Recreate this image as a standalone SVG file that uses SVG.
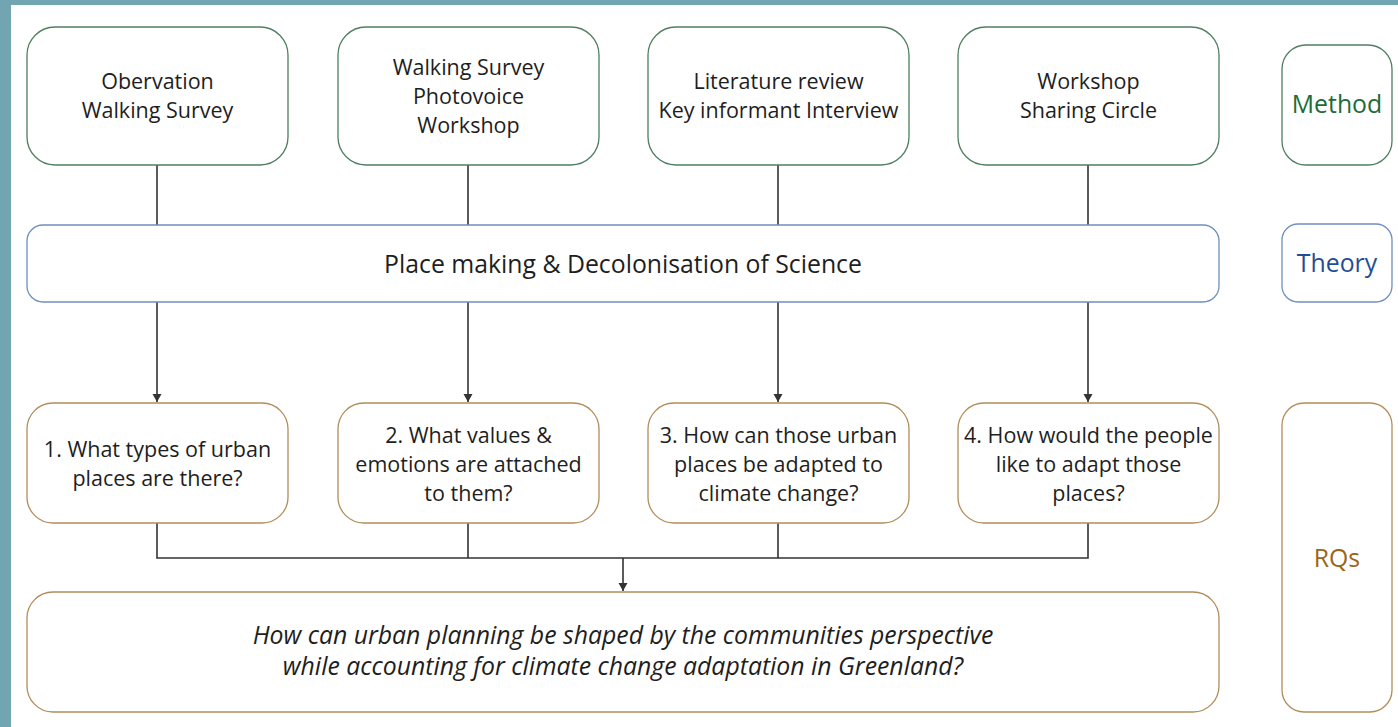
<svg xmlns="http://www.w3.org/2000/svg" width="1398" height="727" viewBox="0 0 1398 727">
<defs>
<marker id="arr" markerWidth="10" markerHeight="10" refX="9" refY="5" orient="auto" markerUnits="userSpaceOnUse">
<path d="M1,0.5 L9,5 L1,9.5 Z" fill="#333"/>
</marker>
<style>
text{font-family:"Open Sans","Noto Sans",sans-serif;font-size:21.5px;fill:#1e1e1e;text-anchor:middle;dominant-baseline:central}
.m{fill:#fff;stroke:#4f7f5f;stroke-width:1.3}
.t{fill:#fff;stroke:#6f8fbf;stroke-width:1.3}
.r{fill:#fff;stroke:#b18d5b;stroke-width:1.3}
.c{fill:none;stroke:#333;stroke-width:1.6}
.big{font-size:24.8px}
</style>
</defs>
<rect width="1398" height="727" fill="#72a5b2"/>
<rect x="11" y="5" width="1387" height="722" fill="#fff"/>
<g id="connectors">
<path class="c" d="M157,165V225M468,165V225M778,165V225M1088,165V225"/>
<path class="c" d="M157,302V402" marker-end="url(#arr)"/>
<path class="c" d="M468,302V402" marker-end="url(#arr)"/>
<path class="c" d="M778,302V402" marker-end="url(#arr)"/>
<path class="c" d="M1088,302V402" marker-end="url(#arr)"/>
<path class="c" d="M157,523V558H1088V523M468,523V558M778,523V558"/>
<path class="c" d="M623,558V591" marker-end="url(#arr)"/>
</g>
<g id="m1"><rect class="m" x="27" y="27" width="261" height="138" rx="28"/><text x="157.5" y="80">Obervation</text><text x="157.5" y="109">Walking Survey</text></g>
<g id="m2"><rect class="m" x="338" y="27" width="261" height="138" rx="28"/><text x="468.5" y="66">Walking Survey</text><text x="468.5" y="95">Photovoice</text><text x="468.5" y="124">Workshop</text></g>
<g id="m3"><rect class="m" x="648" y="27" width="261" height="138" rx="28"/><text x="778.5" y="80">Literature review</text><text x="778.5" y="109">Key informant Interview</text></g>
<g id="m4"><rect class="m" x="958" y="27" width="261" height="138" rx="28"/><text x="1088.5" y="80">Workshop</text><text x="1088.5" y="109">Sharing Circle</text></g>
<g id="method"><rect class="m" x="1282" y="45" width="110" height="120" rx="24"/><text class="big" x="1337" y="103" style="fill:#1e6b37">Method</text></g>
<g id="theory-bar"><rect class="t" x="27" y="225" width="1192" height="77" rx="16"/><text class="big" x="623" y="263">Place making &amp; Decolonisation of Science</text></g>
<g id="theory"><rect class="t" x="1282" y="224" width="110" height="78" rx="16"/><text class="big" x="1337" y="262" style="fill:#1f4e96">Theory</text></g>
<g id="q1"><rect class="r" x="27" y="403" width="261" height="120" rx="26"/><text x="157.5" y="448">1. What types of urban</text><text x="157.5" y="477">places are there?</text></g>
<g id="q2"><rect class="r" x="338" y="403" width="261" height="120" rx="26"/><text x="468.5" y="434">2. What values &amp;</text><text x="468.5" y="463">emotions are attached</text><text x="468.5" y="492">to them?</text></g>
<g id="q3"><rect class="r" x="648" y="403" width="261" height="120" rx="26"/><text x="778.5" y="434">3. How can those urban</text><text x="778.5" y="463">places be adapted to</text><text x="778.5" y="492">climate change?</text></g>
<g id="q4"><rect class="r" x="958" y="403" width="261" height="120" rx="26"/><text x="1088.5" y="434">4. How would the people</text><text x="1088.5" y="463">like to adapt those</text><text x="1088.5" y="492">places?</text></g>
<g id="rqs"><rect class="r" x="1282" y="403" width="110" height="309" rx="22"/><text class="big" x="1337" y="557" style="fill:#9a651c">RQs</text></g>
<g id="main"><rect class="r" x="27" y="592" width="1192" height="120" rx="26"/><text class="big" x="623" y="634" style="font-style:italic">How can urban planning be shaped by the communities perspective</text><text class="big" x="623" y="665" style="font-style:italic">while accounting for climate change adaptation in Greenland?</text></g>
</svg>
